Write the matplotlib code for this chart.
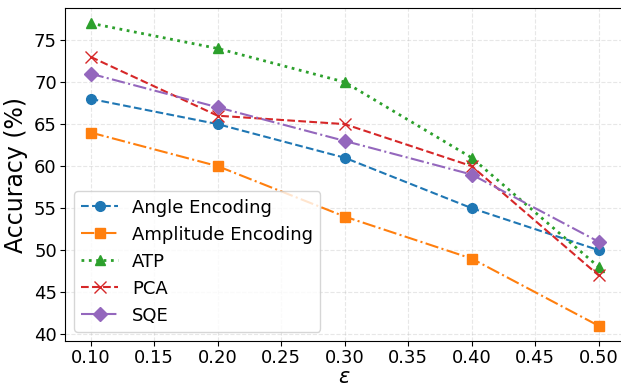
import matplotlib
matplotlib.use("Agg")
import matplotlib.pyplot as plt

eps = [0.1, 0.2, 0.3, 0.4, 0.5]
angle = [68, 65, 61, 55, 50]
amplitude = [64, 60, 54, 49, 41]
atp = [77, 74, 70, 61, 48]
pca = [73, 66, 65, 60, 47]
sqe = [71, 67, 63, 59, 51]

fig, ax = plt.subplots(figsize=(6.21, 3.87), dpi=100)

ax.plot(eps, angle, 'o--', color='tab:blue', markersize=7, label='Angle Encoding')
ax.plot(eps, amplitude, 's-.', color='tab:orange', markersize=7, label='Amplitude Encoding')
ax.plot(eps, atp, '^:', color='tab:green', markersize=7, linewidth=2, label='ATP')
ax.plot(eps, pca, 'x--', color='tab:red', markersize=8, label='PCA')
ax.plot(eps, sqe, 'D-.', color='tab:purple', markersize=7, label='SQE')

ax.set_xlabel(r'$\epsilon$', fontsize=15, va='center')
ax.xaxis.set_label_coords(0.5, -0.108)
ax.set_ylabel('Accuracy (%)', fontsize=17)
ax.set_xticks([0.1, 0.15, 0.2, 0.25, 0.3, 0.35, 0.4, 0.45, 0.5])
ax.set_xlim(0.08, 0.52)
ax.tick_params(labelsize=13, pad=2.5)
ax.grid(True, linestyle='--', alpha=0.3)
ax.legend(fontsize=13, loc='lower left')

fig.subplots_adjust(left=0.105, right=1.005, top=0.979, bottom=0.119)
plt.savefig('out.png')
